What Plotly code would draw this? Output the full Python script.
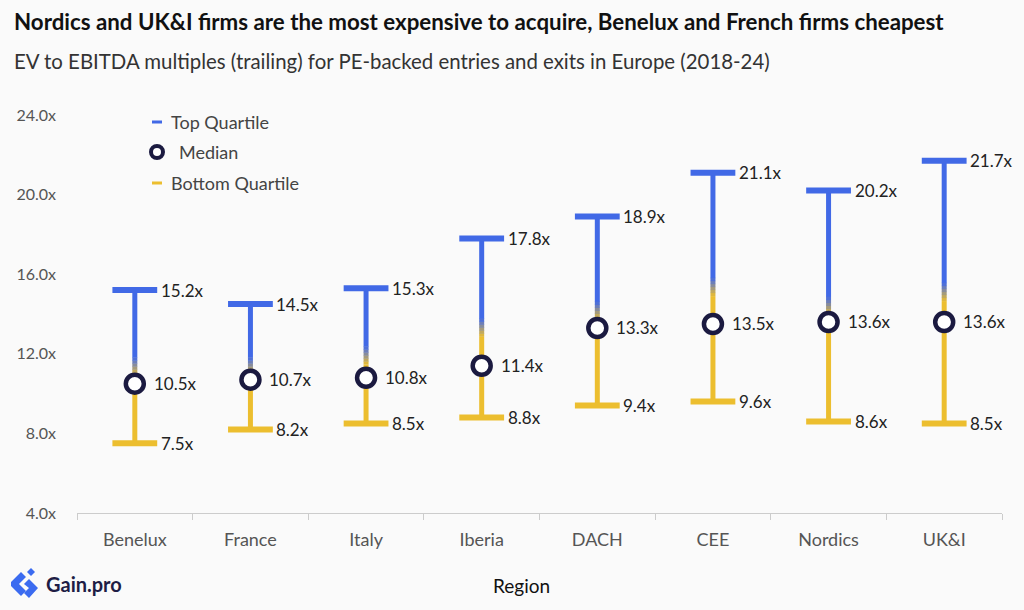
import plotly.graph_objects as go

regions = ["Benelux", "France", "Italy", "Iberia", "DACH", "CEE", "Nordics", "UK&I"]
top_quartile = [15.2, 14.5, 15.3, 17.8, 18.9, 21.1, 20.2, 21.7]
median = [10.5, 10.7, 10.8, 11.4, 13.3, 13.5, 13.6, 13.6]
bottom_quartile = [7.5, 8.2, 8.5, 8.8, 9.4, 9.6, 8.6, 8.5]
y_ticks = [4, 8, 12, 16, 20, 24]

BLUE = "#4169e6"
YELLOW = "#ecbe2f"
NAVY = "#1b1a40"
BG = "#fafafa"
FONT = "Lato"

# plot area in pixels (for paper-coordinate decorations)
L, R, T, B = 77, 1002, 115, 513
W, H = R - L, B - T


def px(x):
    return (x - L) / W


def py(y):
    return (B - y) / H


def hex2rgb(h):
    h = h.lstrip("#")
    return tuple(int(h[i:i + 2], 16) for i in (0, 2, 4))


def blend(c1, c2, t):
    a, b = hex2rgb(c1), hex2rgb(c2)
    return "rgb(%d,%d,%d)" % tuple(round(a[i] + (b[i] - a[i]) * t) for i in range(3))


fig = go.Figure()

# vertical ranges with gradient transition at the middle of the range
for i, r in enumerate(regions):
    lo, hi = bottom_quartile[i], top_quartile[i]
    mid = (lo + hi) / 2
    g = 0.45
    fig.add_trace(go.Scatter(x=[r, r], y=[lo, mid - g], mode="lines",
                             line=dict(color=YELLOW, width=5), showlegend=False, hoverinfo="skip"))
    fig.add_trace(go.Scatter(x=[r, r], y=[mid + g, hi], mode="lines",
                             line=dict(color=BLUE, width=5), showlegend=False, hoverinfo="skip"))
    n = 6
    for k in range(n):
        y0 = mid - g + 2 * g * k / n
        y1 = mid - g + 2 * g * (k + 1) / n
        fig.add_trace(go.Scatter(x=[r, r], y=[y0, y1 + 0.02], mode="lines",
                                 line=dict(color=blend(YELLOW, BLUE, (k + 0.5) / n), width=5),
                                 showlegend=False, hoverinfo="skip"))

# caps
fig.add_trace(go.Scatter(x=regions, y=top_quartile, mode="markers", name="Top Quartile",
                         marker=dict(symbol="line-ew", size=32, line=dict(color=BLUE, width=6)),
                         showlegend=False))
fig.add_trace(go.Scatter(x=regions, y=bottom_quartile, mode="markers", name="Bottom Quartile",
                         marker=dict(symbol="line-ew", size=32, line=dict(color=YELLOW, width=6)),
                         showlegend=False))
# medians
fig.add_trace(go.Scatter(x=regions, y=median, mode="markers", name="Median",
                         marker=dict(symbol="circle", size=18, color="white",
                                     line=dict(color=NAVY, width=4.5)),
                         showlegend=False))

annotations = []
lab_font = dict(family=FONT, size=17, color="#222222")
for i, r in enumerate(regions):
    annotations.append(dict(x=r, y=top_quartile[i], xref="x", yref="y", text=f"{top_quartile[i]:.1f}x",
                            showarrow=False, xanchor="left", yanchor="middle", xshift=24, font=lab_font))
    annotations.append(dict(x=r, y=median[i], xref="x", yref="y", text=f"{median[i]:.1f}x",
                            showarrow=False, xanchor="left", yanchor="middle", xshift=17, font=lab_font))
    annotations.append(dict(x=r, y=bottom_quartile[i], xref="x", yref="y", text=f"{bottom_quartile[i]:.1f}x",
                            showarrow=False, xanchor="left", yanchor="middle", xshift=24, font=lab_font))

# title / subtitle
annotations.append(dict(x=px(12), y=py(22), xref="paper", yref="paper", xanchor="left", yanchor="middle",
                        text="<b>Nordics and UK&I firms are the most expensive to acquire, Benelux and French firms cheapest</b>",
                        showarrow=False, font=dict(family=FONT, size=22.3, color="#111111")))
annotations.append(dict(x=px(12), y=py(61), xref="paper", yref="paper", xanchor="left", yanchor="middle",
                        text="EV to EBITDA multiples (trailing) for PE-backed entries and exits in Europe (2018-24)",
                        showarrow=False, font=dict(family=FONT, size=20.4, color="#333333")))

# legend (manual)
leg_font = dict(family=FONT, size=18, color="#444444")
annotations.append(dict(x=px(169), y=py(122), xref="paper", yref="paper", xanchor="left", yanchor="middle",
                        text="Top Quartile", showarrow=False, font=leg_font))
annotations.append(dict(x=px(177), y=py(152), xref="paper", yref="paper", xanchor="left", yanchor="middle",
                        text="Median", showarrow=False, font=leg_font))
annotations.append(dict(x=px(169), y=py(183), xref="paper", yref="paper", xanchor="left", yanchor="middle",
                        text="Bottom Quartile", showarrow=False, font=leg_font))

# axis title
annotations.append(dict(x=px(521), y=py(585), xref="paper", yref="paper", xanchor="center", yanchor="middle",
                        text="Region", showarrow=False, font=dict(family=FONT, size=19, color="#111111")))
# logo text
annotations.append(dict(x=px(44), y=py(584), xref="paper", yref="paper", xanchor="left", yanchor="middle",
                        text="<b>Gain.pro</b>", showarrow=False, font=dict(family=FONT, size=20, color="#1e1d45")))

shapes = [
    dict(type="line", xref="paper", yref="paper", x0=px(152), x1=px(162), y0=py(122), y1=py(122),
         line=dict(color=BLUE, width=3)),
    dict(type="line", xref="paper", yref="paper", x0=px(152), x1=px(162), y0=py(183), y1=py(183),
         line=dict(color=YELLOW, width=3)),
    dict(type="circle", xref="paper", yref="paper", x0=px(151), x1=px(163), y0=py(158), y1=py(146),
         line=dict(color=NAVY, width=4), fillcolor="white"),
]


def pathp(pts):
    return "M " + " L ".join(f"{px(a):.5f},{py(b):.5f}" for a, b in pts) + " Z"


# logo icon (approximation)
shapes.append(dict(type="path", xref="paper", yref="paper", fillcolor="#3b6bf0", line=dict(width=0),
                   path=pathp([(21, 572), (26, 577), (19, 584), (26, 591), (21, 596), (11, 586), (11, 582)])))
shapes.append(dict(type="path", xref="paper", yref="paper", fillcolor="#3b6bf0", line=dict(width=0),
                   path=pathp([(31, 568), (35, 572), (31, 576), (27, 572)])))
shapes.append(dict(type="path", xref="paper", yref="paper", fillcolor="#3b6bf0", line=dict(width=0),
                   path=pathp([(29, 579), (38, 588), (29, 598), (24, 593), (29, 588), (24, 584)])))

fig.update_layout(
    width=1024, height=610,
    margin=dict(l=L, r=1024 - R, t=T, b=610 - B),
    paper_bgcolor=BG, plot_bgcolor=BG,
    showlegend=False,
    font=dict(family=FONT, color="#555555"),
    annotations=annotations,
    shapes=shapes,
    xaxis=dict(type="category", categoryorder="array", categoryarray=regions,
               showline=True, linecolor="#cccccc", linewidth=1,
               ticks="outside", tickson="boundaries", ticklen=6, tickcolor="#cccccc",
               showgrid=False, zeroline=False,
               tickfont=dict(family=FONT, size=18, color="#555555"),
               ticklabelstandoff=10,
               range=[-0.5, len(regions) - 0.5]),
    yaxis=dict(range=[4, 24], tickvals=y_ticks, ticktext=[f"{v:.1f}x" for v in y_ticks],
               showgrid=False, zeroline=False, showline=False,
               tickfont=dict(family=FONT, size=16, color="#555555"),
               ticklabelstandoff=20),
)

fig.write_html("out.html")
